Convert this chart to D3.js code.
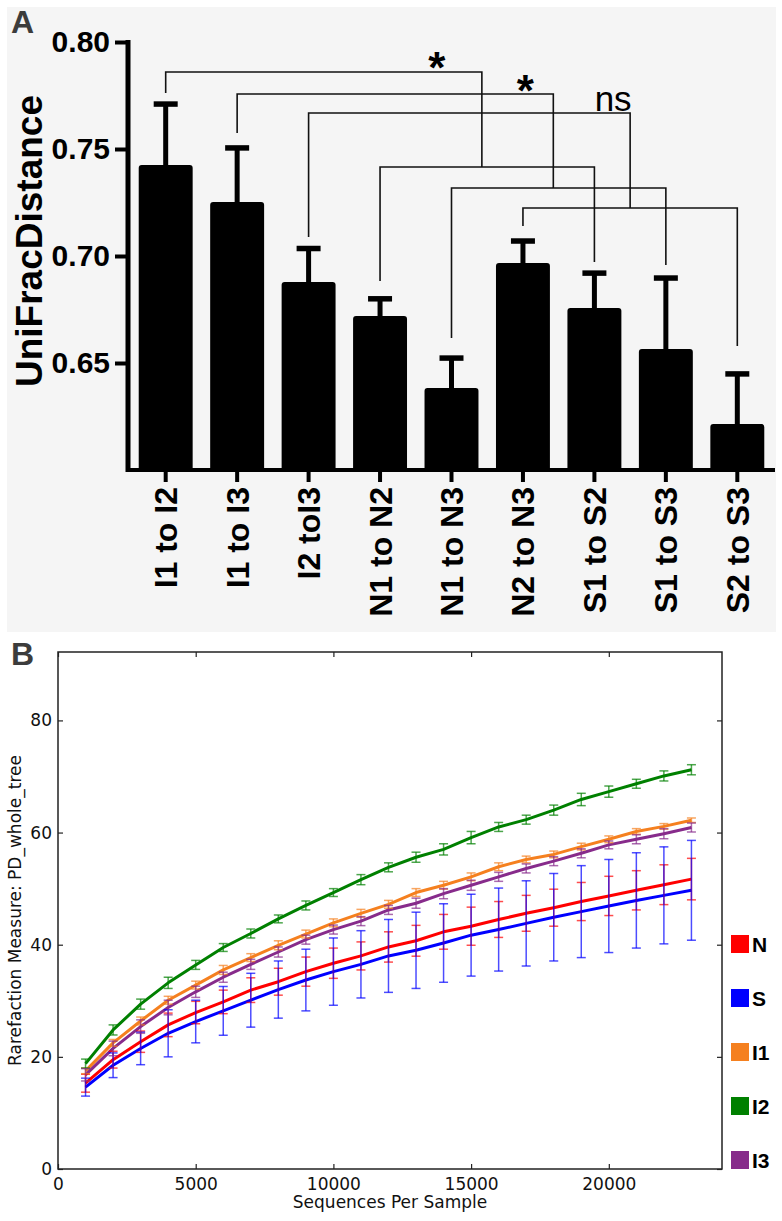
<!DOCTYPE html>
<html><head><meta charset="utf-8">
<script src="https://cdn.jsdelivr.net/npm/d3@7"></script>
<style>body{margin:0;background:#fff}svg{display:block}</style>
</head><body>
<svg id="chart" width="782" height="1221"></svg>
<script>
// ---------------- Panel A data ----------------
const comparisons = ["I1 to I2","I1 to I3","I2 toI3","N1 to N2","N1 to N3","N2 to N3","S1 to S2","S1 to S3","S2 to S3"];
const unifracMean = [0.7425,0.7252,0.6879,0.6720,0.6383,0.6967,0.6757,0.6565,0.6215];
const unifracErr  = [0.0285,0.0253,0.0156,0.0080,0.0140,0.0103,0.0163,0.0332,0.0234];
const unifracTicks = [0.65,0.70,0.75,0.80];
const unifracTickLabels = ["0.65","0.70","0.75","0.80"];
// significance brackets (levels in data units)
const groupLeft   = ["N1 to N2","N1 to N3","N2 to N3"];
const groupRight  = ["S1 to S2","S1 to S3","S2 to S3"];
const groupLevel  = [0.7416,0.7318,0.7224];
const groupLeftEnd  = [0.6883,0.6617,0.7140];
const groupRightEnd = [0.6972,0.6958,0.6579];
const topFrom   = ["I1 to I2","I1 to I3","I2 toI3"];
const topLevel  = [0.7860,0.7757,0.7668];
const topEnd    = [0.7762,0.7575,0.7089];
const topLabels = ["*","*","ns"];

// ---------------- Panel B data ----------------
const depths = [1000,2000,3000,4000,5000,6000,7000,8000,9000,10000,11000,12000,13000,14000,15000,16000,17000,18000,19000,20000,21000,22000,23000];
const seriesNames = ["N","S","I1","I2","I3"];
const seriesColors = ["#ff0000","#0000ff","#f5801f","#008000","#872b8b"];
const valN  = [15.3,19.5,22.7,25.7,27.9,29.8,31.9,33.4,35.2,36.7,38.0,39.6,40.7,42.3,43.3,44.5,45.6,46.6,47.7,48.7,49.7,50.7,51.7];
const valS  = [14.6,18.5,21.5,24.2,26.3,28.2,30.1,32.0,33.7,35.2,36.5,38.0,39.0,40.3,41.7,42.7,43.8,44.9,45.9,46.9,47.9,48.8,49.7];
const valI1 = [17.5,22.5,26.4,30.1,32.8,35.5,37.7,39.9,41.9,43.9,45.6,47.2,49.3,50.6,52.1,53.9,55.2,56.1,57.5,58.8,60.2,61.1,62.2];
const valI2 = [18.8,24.8,29.4,33.2,36.4,39.5,42.0,44.6,47.0,49.3,51.6,53.8,55.6,57.0,59.1,61.0,62.3,64.0,65.9,67.3,68.7,70.1,71.2];
const valI3 = [16.8,21.5,25.4,28.8,31.6,34.2,36.5,38.7,40.9,42.7,44.2,46.2,47.4,49.1,50.6,52.1,53.6,54.9,56.3,57.8,58.8,59.8,60.9];
const errN  = [1.6,1.5,1.9,2.1,2.0,2.1,2.2,2.4,2.6,2.7,2.5,2.7,2.75,3.1,3.4,3.2,3.2,3.3,3.4,3.5,3.5,3.55,3.7];
const errS  = [1.6,2.2,2.9,4.2,3.8,4.35,4.8,5.1,5.5,6.0,6.0,6.5,6.8,7.0,7.3,7.4,7.6,7.8,8.2,8.3,8.5,8.65,8.9];
const errI1 = [0.5,0.6,0.7,0.7,0.7,0.8,0.7,0.8,0.7,0.7,0.7,0.7,0.7,0.7,0.7,0.7,0.6,0.6,0.6,0.6,0.5,0.5,0.4];
const errI2 = [0.8,0.9,0.9,1.0,0.8,0.7,0.8,0.7,0.8,0.7,0.9,0.8,0.9,1.0,1.1,0.8,0.8,0.9,1.1,1.0,0.8,0.9,0.9];
const errI3 = [1.1,1.3,1.2,1.3,1.0,0.9,0.9,0.9,0.8,0.8,0.8,0.8,0.9,0.9,0.9,0.8,0.8,0.8,0.8,0.7,0.8,0.9,0.8];
const rareTicksX = [0,5000,10000,15000,20000];
const rareTicksY = [0,20,40,60,80];

const svg = d3.select("#chart");
const ARIAL = "'Liberation Sans', Arial, Helvetica, sans-serif";
const DEJAVU = "'DejaVu Sans', sans-serif";

// ================= PANEL A =================
svg.append("rect").attr("x",7).attr("y",7).attr("width",769).attr("height",625).attr("fill","#f5f5f5");
svg.append("text").attr("x",11).attr("y",33).attr("font-family",ARIAL).attr("font-weight","bold")
  .attr("font-size",32).attr("fill","#3c3c3c").text("A");

const xA = d3.scaleBand().domain(comparisons).range([128,775]).paddingInner(0.245).paddingOuter(0.15);
const yA = d3.scaleLinear().domain([0.60,0.80]).range([470,42]);
const gA = svg.append("g");
const cx = c => xA(c) + xA.bandwidth()/2;

// bars
gA.selectAll("path.bar").data(comparisons).enter().append("path")
  .attr("d",(c,i)=>{
    const x0 = xA(c), w = xA.bandwidth(), yt = yA(unifracMean[i]), yb = yA(0.60), r = 3;
    return `M${x0},${yb}V${yt+r}Q${x0},${yt} ${x0+r},${yt}H${x0+w-r}Q${x0+w},${yt} ${x0+w},${yt+r}V${yb}Z`;
  }).attr("fill","#000");
// error bars
gA.selectAll("line.stem").data(comparisons).enter().append("line")
  .attr("x1",cx).attr("x2",cx)
  .attr("y1",(c,i)=>yA(unifracMean[i])+1).attr("y2",(c,i)=>yA(unifracMean[i]+unifracErr[i]))
  .attr("stroke","#000").attr("stroke-width",5);
gA.selectAll("line.cap").data(comparisons).enter().append("line")
  .attr("x1",c=>cx(c)-12).attr("x2",c=>cx(c)+12)
  .attr("y1",(c,i)=>yA(unifracMean[i]+unifracErr[i])).attr("y2",(c,i)=>yA(unifracMean[i]+unifracErr[i]))
  .attr("stroke","#000").attr("stroke-width",5.5);

// y axis
const yAxisA = d3.axisLeft(yA).tickValues(unifracTicks).tickFormat((d,i)=>unifracTickLabels[i]).tickSize(13).tickPadding(5);
const gyA = gA.append("g").attr("transform","translate(128,0)").call(yAxisA);
gyA.select(".domain").remove();
gyA.selectAll(".tick line").attr("stroke","#000").attr("stroke-width",4);
gyA.selectAll(".tick text").attr("font-family",ARIAL).attr("font-weight","bold").attr("font-size",30).attr("fill","#000");
gA.append("line").attr("x1",128).attr("x2",128).attr("y1",40).attr("y2",472).attr("stroke","#000").attr("stroke-width",5);
// x axis
const xAxisA = d3.axisBottom(xA).tickSize(12).tickPadding(0);
const gxA = gA.append("g").attr("transform","translate(0,470)").call(xAxisA);
gxA.select(".domain").remove();
gxA.selectAll(".tick line").attr("stroke","#000").attr("stroke-width",4);
gxA.selectAll(".tick text").attr("font-family",ARIAL).attr("font-weight","bold").attr("font-size",32).attr("fill","#000")
  .attr("transform","translate(0,17) rotate(-90)").attr("text-anchor","end").attr("x",0).attr("y",0).attr("dy","0.36em");
gA.append("line").attr("x1",126).attr("x2",775).attr("y1",470).attr("y2",470).attr("stroke","#000").attr("stroke-width",4);

// y title
svg.append("text").attr("transform","translate(42,241) rotate(-90)").attr("text-anchor","middle")
  .attr("font-family",ARIAL).attr("font-weight","bold").attr("font-size",37).attr("fill","#000").text("UniFracDistance");

// brackets
const gB = gA.append("g").attr("fill","none").attr("stroke","#111").attr("stroke-width",1.6);
const groupMidX = [];
groupLeft.forEach((l,i)=>{
  const xl = cx(l), xr = cx(groupRight[i]), yl = yA(groupLevel[i]);
  gB.append("path").attr("d",`M${xl},${yA(groupLeftEnd[i])}V${yl}H${xr}V${yA(groupRightEnd[i])}`);
  groupMidX.push(xl + (xr-xl)*[0.475,0.475,0.5][i]);
});
topFrom.forEach((f,i)=>{
  const xl = cx(f), xr = groupMidX[i], yl = yA(topLevel[i]);
  gB.append("path").attr("d",`M${xl},${yA(topEnd[i])}V${yl}H${xr}V${yA(groupLevel[i])}`);
});
const labelOffsets = [-45,-28,-17];
const labelSizes = [44,44,35];
const labelBase = [83,106,111];
topLabels.forEach((t,i)=>{
  gA.append("text").attr("x",groupMidX[i]+labelOffsets[i]).attr("y",labelBase[i])
    .attr("text-anchor","middle").attr("font-family",ARIAL).attr("font-size",labelSizes[i])
    .attr("font-weight", t==="*" ? "bold" : "normal").attr("fill","#000").text(t);
});

// ================= PANEL B =================
svg.append("text").attr("x",11).attr("y",665).attr("font-family",ARIAL).attr("font-weight","bold")
  .attr("font-size",32).attr("fill","#3c3c3c").text("B");

const L=58, R=722, T=652, Bm=1169;
const xB = d3.scaleLinear().domain([0,24110]).range([L,R]);
const yB = d3.scaleLinear().domain([0,92.2]).range([Bm,T]);
const g2 = svg.append("g");

const vals = [valN,valS,valI1,valI2,valI3];
const errs = [errN,errS,errI1,errI2,errI3];
const lineGen = d3.line().x((d,i)=>xB(depths[i])).y(d=>yB(d));

// lines
seriesNames.forEach((s,k)=>{
  g2.append("path").datum(vals[k]).attr("d",lineGen).attr("fill","none")
    .attr("stroke",seriesColors[k]).attr("stroke-width",3).attr("stroke-linejoin","round");
});
// error bars
seriesNames.forEach((s,k)=>{
  const ge = g2.append("g").attr("stroke",seriesColors[k]).attr("stroke-opacity",0.7).attr("stroke-width",1.5);
  depths.forEach((d,i)=>{
    const x = xB(d), y1 = yB(vals[k][i]+errs[k][i]), y0 = yB(vals[k][i]-errs[k][i]);
    ge.append("line").attr("x1",x).attr("x2",x).attr("y1",y0).attr("y2",y1);
    ge.append("line").attr("x1",x-4.5).attr("x2",x+4.5).attr("y1",y0).attr("y2",y0);
    ge.append("line").attr("x1",x-4.5).attr("x2",x+4.5).attr("y1",y1).attr("y2",y1);
  });
});

// axes (inward ticks on all sides)
const axB = d3.axisBottom(xB).tickValues(rareTicksX).tickFormat(d3.format("d")).tickSize(-5).tickPadding(9);
const axL = d3.axisLeft(yB).tickValues(rareTicksY).tickSize(-5).tickPadding(6);
const axT = d3.axisTop(xB).tickValues(rareTicksX).tickFormat("").tickSize(-5);
const axR = d3.axisRight(yB).tickValues(rareTicksY).tickFormat("").tickSize(-5);
[[axB,`translate(0,${Bm})`],[axL,`translate(${L},0)`],[axT,`translate(0,${T})`],[axR,`translate(${R},0)`]].forEach(([ax,tr])=>{
  const g = g2.append("g").attr("transform",tr).call(ax);
  g.select(".domain").remove();
  g.selectAll(".tick line").attr("stroke","#222").attr("stroke-width",1.2);
  g.selectAll(".tick text").attr("font-family",DEJAVU).attr("font-size",17).attr("fill","#111");
});
g2.append("rect").attr("x",L).attr("y",T).attr("width",R-L).attr("height",Bm-T)
  .attr("fill","none").attr("stroke","#222").attr("stroke-width",1.5);

g2.append("text").attr("x",(L+R)/2).attr("y",1208).attr("text-anchor","middle")
  .attr("font-family",DEJAVU).attr("font-size",17).attr("fill","#111").text("Sequences Per Sample");
g2.append("text").attr("transform",`translate(21,${(T+Bm)/2}) rotate(-90)`).attr("text-anchor","middle")
  .attr("font-family",DEJAVU).attr("font-size",17).attr("fill","#111").text("Rarefaction Measure: PD_whole_tree");

// legend
const legY = d3.scalePoint().domain(seriesNames).range([944,1160]);
const leg = g2.selectAll("g.leg").data(seriesNames).enter().append("g");
leg.append("rect").attr("x",731).attr("y",s=>legY(s)-9).attr("width",18).attr("height",18)
  .attr("fill",(s,k)=>seriesColors[k]);
leg.append("text").attr("x",752).attr("y",s=>legY(s)+8).attr("font-family",ARIAL).attr("font-weight","bold")
  .attr("font-size",21).attr("fill","#000").text(s=>s);
</script>
</body></html>
